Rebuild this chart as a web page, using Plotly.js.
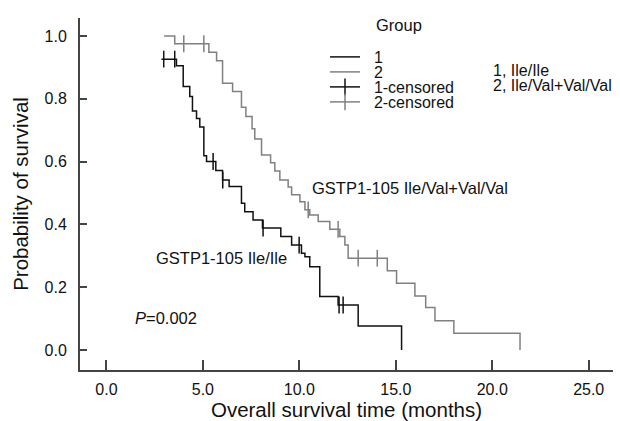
<!DOCTYPE html>
<html><head><meta charset="utf-8">
<script src="https://cdn.plot.ly/plotly-3.0.1.min.js"></script>
<style>html,body{margin:0;padding:0;background:#fff}#chart{width:620px;height:421px}</style>
</head><body><div id="chart"></div>
<script>
// Group 1 (Ile/Ile) Kaplan-Meier step points: time (months), survival
const g1Time = [2.85, 3.63, 3.98, 4.32, 4.46, 4.67, 4.84, 5.05, 5.19, 5.67, 6.02, 6.36, 7.00, 7.17, 7.60, 8.09, 9.04, 9.60, 10.11, 10.29, 10.54, 11.06, 12.01, 13.05, 15.30];
const g1Surv = [0.926, 0.905, 0.839, 0.807, 0.761, 0.737, 0.710, 0.618, 0.600, 0.571, 0.541, 0.520, 0.467, 0.440, 0.414, 0.388, 0.361, 0.334, 0.308, 0.297, 0.265, 0.170, 0.143, 0.076, 0.0];
// Group 2 (Ile/Val+Val/Val)
const g2Time = [2.99, 3.54, 5.31, 5.71, 6.02, 6.54, 7.00, 7.23, 7.55, 7.69, 8.04, 8.51, 8.73, 8.99, 9.42, 9.60, 10.03, 10.29, 10.54, 10.98, 11.58, 12.10, 12.36, 12.53, 14.56, 15.04, 15.99, 16.55, 17.03, 18.01, 21.44];
const g2Surv = [1.0, 0.975, 0.948, 0.921, 0.849, 0.823, 0.773, 0.743, 0.704, 0.672, 0.621, 0.596, 0.570, 0.541, 0.519, 0.494, 0.472, 0.446, 0.430, 0.409, 0.384, 0.361, 0.334, 0.292, 0.252, 0.212, 0.172, 0.135, 0.093, 0.053, 0.0];
// Censored observations
const g1CensTime = [2.97, 3.54, 5.53, 6.03, 8.12, 9.99, 12.06, 12.27];
const g1CensSurv = [0.926, 0.926, 0.600, 0.541, 0.388, 0.334, 0.143, 0.143];
const g2CensTime = [4.01, 5.05, 10.46, 12.01, 13.05, 14.04];
const g2CensSurv = [0.975, 0.975, 0.446, 0.384, 0.292, 0.292];
// Axis ticks
const xTickVals = [0, 5, 10, 15, 20, 25];
const xTickText = ['0.0', '5.0', '10.0', '15.0', '20.0', '25.0'];
const yTickVals = [0, 0.2, 0.4, 0.6, 0.8, 1.0];
const yTickText = ['0.0', '0.2', '0.4', '0.6', '0.8', '1.0'];

const BLACK = '#111111', GRAY = '#808080', AX = '#444444';
const FONT = 'Liberation Sans, Arial, Helvetica, sans-serif';
const NB = '\u00a0\u00a0';

function gapped(a) { const o = []; a.forEach((v, i) => { if (i) o.push(null); o.push(v); }); return o; }

const traces = [
  {x: g1Time, y: g1Surv, mode: 'lines', line: {shape: 'hv', color: BLACK, width: 1.5}, name: NB + '1', legend: 'legend', hoverinfo: 'x+y'},
  {x: g2Time, y: g2Surv, mode: 'lines', line: {shape: 'hv', color: GRAY, width: 1.5}, name: NB + '2', legend: 'legend2', hoverinfo: 'x+y'},
  {x: gapped(g1CensTime), y: gapped(g1CensSurv), mode: 'lines+markers', connectgaps: false,
   line: {color: BLACK, width: 1.5}, marker: {symbol: 'line-ns-open', size: 12, color: BLACK, line: {color: BLACK, width: 1.5}},
   name: NB + '1-censored', legend: 'legend3'},
  {x: gapped(g2CensTime), y: gapped(g2CensSurv), mode: 'lines+markers', connectgaps: false,
   line: {color: GRAY, width: 1.5}, marker: {symbol: 'line-ns-open', size: 12, color: GRAY, line: {color: GRAY, width: 1.5}},
   name: NB + '2-censored', legend: 'legend4'}
];

const L = 80, R = 613, T = 18, B = 370;
function lx(px) { return (px - L) / (R - L); }
function ly(py) { return (B - py) / (B - T); }
function legendAt(py) {
  return {x: lx(325), y: ly(py), xanchor: 'left', yanchor: 'middle', bgcolor: 'rgba(0,0,0,0)', borderwidth: 0,
          font: {family: FONT, size: 16, color: '#111'}, itemwidth: 30};
}
const annFont = {family: FONT, size: 16.5, color: '#111'};
const layout = {
  width: 620, height: 421,
  margin: {l: L, r: 620 - R, t: T, b: 421 - B, pad: 0},
  paper_bgcolor: '#fff', plot_bgcolor: '#fff',
  font: {family: FONT, color: '#111'},
  showlegend: true,
  legend: legendAt(57), legend2: legendAt(72), legend3: legendAt(87), legend4: legendAt(102),
  xaxis: {range: [-1.37, 26.26], tickvals: xTickVals, ticktext: xTickText, ticks: 'inside', ticklen: 10, tickwidth: 1.5, tickcolor: AX,
          showline: true, linecolor: AX, linewidth: 2, zeroline: false, showgrid: false, tickfont: {family: FONT, size: 16, color: '#111'},
          ticklabelstandoff: 4,
          title: {text: 'Overall survival time (months)', font: {family: FONT, size: 20.5, color: '#111'}, standoff: 12}},
  yaxis: {range: [-0.064, 1.057], tickvals: yTickVals, ticktext: yTickText, ticks: 'inside', ticklen: 7, tickwidth: 1.5, tickcolor: AX,
          showline: true, linecolor: AX, linewidth: 2, zeroline: false, showgrid: false, tickfont: {family: FONT, size: 16, color: '#111'},
          ticklabelstandoff: 8,
          title: {text: 'Probability of survival', font: {family: FONT, size: 20.5, color: '#111'}, standoff: 10}},
  annotations: [
    {text: 'GSTP1-105 Ile/Val+Val/Val', x: 10.54, y: 0.516, xref: 'x', yref: 'y', xanchor: 'left', yanchor: 'middle', showarrow: false, font: annFont},
    {text: 'GSTP1-105 Ile/Ile', x: 2.45, y: 0.293, xref: 'x', yref: 'y', xanchor: 'left', yanchor: 'middle', showarrow: false, font: annFont},
    {text: '<i>P</i>=0.002', x: 1.36, y: 0.102, xref: 'x', yref: 'y', xanchor: 'left', yanchor: 'middle', showarrow: false, font: annFont},
    {text: 'Group', x: 13.85, y: 1.035, xref: 'x', yref: 'y', xanchor: 'left', yanchor: 'middle', showarrow: false, font: annFont},
    {text: '1, Ile/Ile', x: 19.96, y: 0.889, xref: 'x', yref: 'y', xanchor: 'left', yanchor: 'middle', showarrow: false, font: {family: FONT, size: 16, color: '#111'}},
    {text: '2, Ile/Val+Val/Val', x: 19.96, y: 0.841, xref: 'x', yref: 'y', xanchor: 'left', yanchor: 'middle', showarrow: false, font: {family: FONT, size: 16, color: '#111'}}
  ]
};
Plotly.newPlot('chart', traces, layout, {displayModeBar: false, responsive: false});
</script></body></html>
